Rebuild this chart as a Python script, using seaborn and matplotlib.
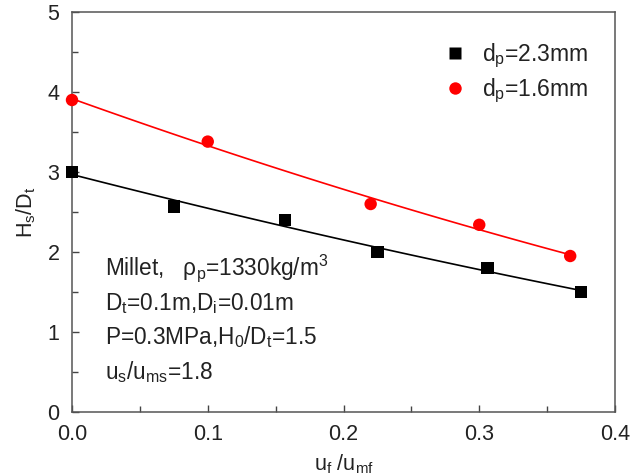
import numpy as np
import pandas as pd
import matplotlib
matplotlib.use("Agg")
import matplotlib.pyplot as plt
import seaborn as sns

# Spout height vs. auxiliary gas ratio for two particle sizes
x_23 = [0.0, 0.075, 0.157, 0.225, 0.306, 0.375]
y_23 = [3.0, 2.57, 2.40, 2.00, 1.80, 1.50]
x_16 = [0.0, 0.100, 0.220, 0.300, 0.367]
y_16 = [3.9, 3.38, 2.60, 2.34, 1.95]
labels = ["d$_p$=2.3mm", "d$_p$=1.6mm"]
colors = ["#000000", "#ff0000"]
markers = ["s", "o"]

x_ticks = [0.0, 0.1, 0.2, 0.3, 0.4]
y_ticks = [0, 1, 2, 3, 4, 5]

sns.set_theme(style="ticks")
plt.rcParams["font.family"] = ["Liberation Sans", "DejaVu Sans"]
plt.rcParams["mathtext.default"] = "regular"

df = pd.concat([
    pd.DataFrame({"x": x_23, "y": y_23, "series": labels[0]}),
    pd.DataFrame({"x": x_16, "y": y_16, "series": labels[1]}),
], ignore_index=True)

fig = plt.figure(figsize=(6.4, 4.75), dpi=100)
ax = fig.add_axes([72 / 640, 1 - 412 / 475, 543 / 640, 400 / 475])

# quadratic fit curves through each series
fits = []
for xs, ys, lab in [(x_23, y_23, labels[0]), (x_16, y_16, labels[1])]:
    c = np.polyfit(xs, ys, 2)
    xf = np.linspace(min(xs), max(xs), 100)
    fits.append(pd.DataFrame({"x": xf, "y": np.polyval(c, xf), "series": lab}))
fit_df = pd.concat(fits, ignore_index=True)

sns.lineplot(data=fit_df, x="x", y="y", hue="series", palette=colors,
             hue_order=labels, linewidth=1.2, legend=False, ax=ax)
sns.scatterplot(data=df, x="x", y="y", hue="series", style="series",
                palette=colors, hue_order=labels, markers=markers,
                style_order=labels, s=80, edgecolor="none", ax=ax,
                clip_on=False, zorder=5)

ax.set_xlim(0, 0.4)
ax.set_ylim(0, 5)
ax.set_xticks(x_ticks)
ax.set_xticklabels([f"{v:.1f}" for v in x_ticks])
ax.set_yticks(y_ticks)
ax.set_xticks(np.arange(0.05, 0.4, 0.1), minor=True)
ax.set_yticks(np.arange(0.5, 5, 1.0), minor=True)
ax.tick_params(which="both", direction="in", colors="#444444",
               labelcolor="#222222", labelsize=15.5, width=1)
ax.tick_params(which="major", length=5)
ax.tick_params(which="minor", length=4)
ax.tick_params(axis="x", pad=9)
ax.tick_params(axis="y", pad=9)
for s in ax.spines.values():
    s.set_visible(True)
    s.set_color("#555555")
    s.set_linewidth(1.1)

ax.set_xlabel("u$_f$ /u$_{mf}$", fontsize=15.5, color="#222222", labelpad=5)
ax.set_ylabel("H$_s$/D$_t$", fontsize=15.5, color="#222222", labelpad=7)

leg = ax.legend(loc="upper left", bbox_to_anchor=(0.642, 0.978), frameon=False,
                fontsize=16.5, handletextpad=0.6, handlelength=1.2,
                labelspacing=0.29, markerscale=1.0)
for t in leg.get_texts():
    t.set_color("#222222")

info = ["Millet,   ρ$_p$=1330kg/m$^3$",
        "D$_t$=0.1m,D$_i$=0.01m",
        "P=0.3MPa,H$_0$/D$_t$=1.5",
        "u$_s$/u$_{ms}$=1.8"]
for i, line in enumerate(info):
    fig.text(105 / 640, 1 - (275 + 34.7 * i) / 475, line, fontsize=16.3,
             color="#222222", va="baseline", ha="left")

fig.savefig("out.png", dpi=100)
